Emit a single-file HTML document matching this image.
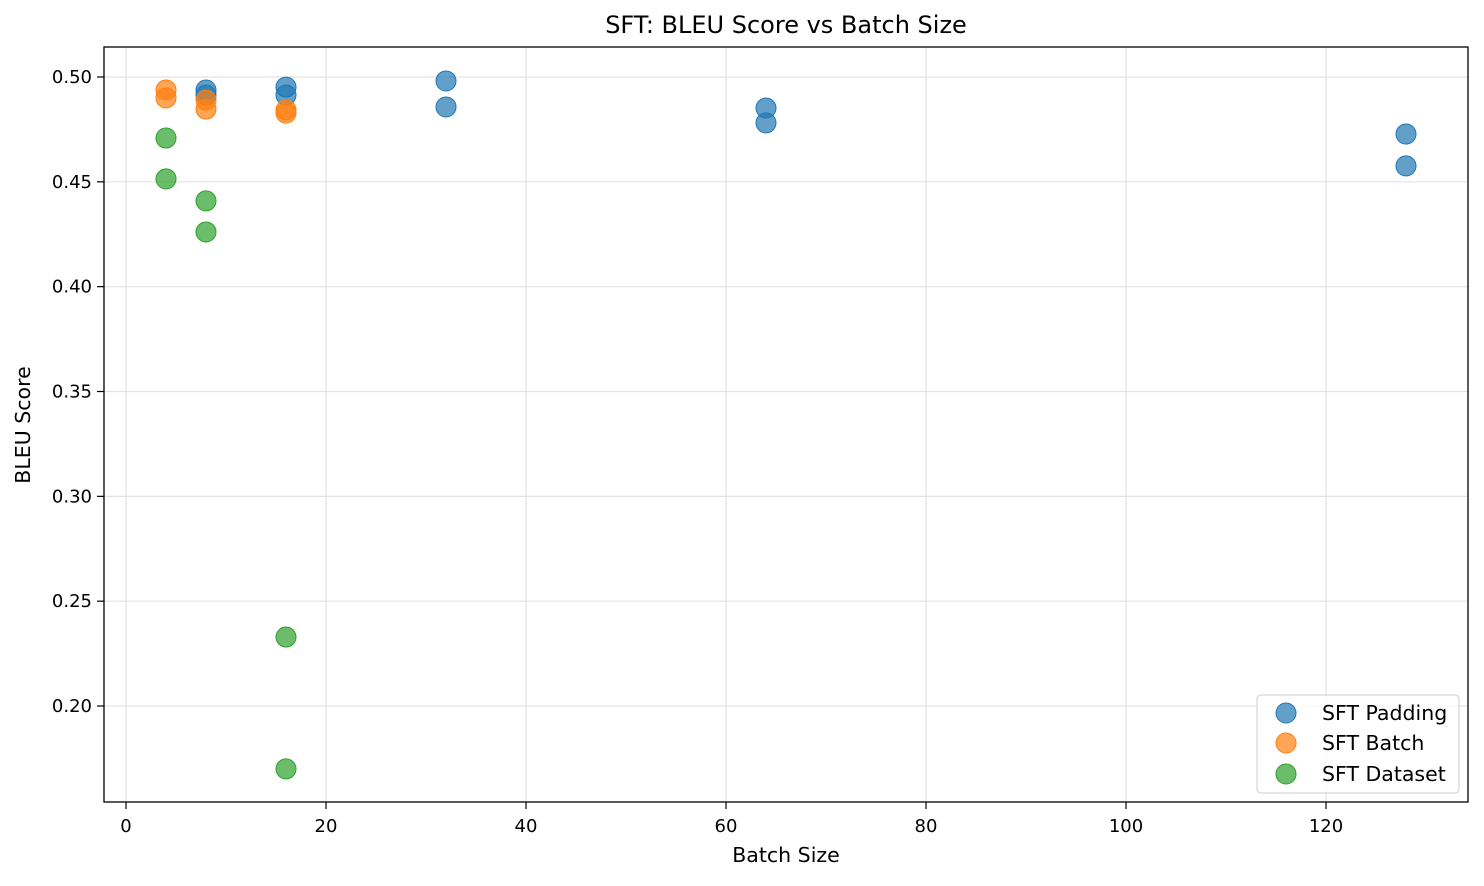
<!DOCTYPE html>
<html><head><meta charset="utf-8">
<style>body{margin:0;background:#fff;font-family:"Liberation Sans","DejaVu Sans",sans-serif;}</style>
</head><body>
<svg id="chart" width="1484" height="881" xmlns="http://www.w3.org/2000/svg" font-family="DejaVu Sans, Liberation Sans, sans-serif">
<rect width="1484" height="881" fill="#fff"/>
<g id="grid"></g>
<g id="ticks"></g>
<g id="marks"></g>
<rect x="104" y="47" width="1364" height="755" fill="none" stroke="#000" stroke-width="1.3"/>
<text x="786" y="33" font-size="24" text-anchor="middle">SFT: BLEU Score vs Batch Size</text>
<text x="786" y="862" font-size="20.5" text-anchor="middle">Batch Size</text>
<text x="30" y="425" font-size="20.5" text-anchor="middle" transform="rotate(-90 30 425)">BLEU Score</text>
<g>
<rect x="1257" y="695" width="202" height="98" rx="4" fill="#fff" fill-opacity="0.8" stroke="#ccc"/>
<circle cx="1286" cy="713" r="10" fill="#1f77b4" fill-opacity="0.7" stroke="#1f77b4"/>
<text x="1322" y="720" font-size="20.5">SFT Padding</text>
<circle cx="1286" cy="743" r="10" fill="#ff7f0e" fill-opacity="0.7" stroke="#ff7f0e"/>
<text x="1322" y="750" font-size="20.5">SFT Batch</text>
<circle cx="1286" cy="774" r="10" fill="#2ca02c" fill-opacity="0.7" stroke="#2ca02c"/>
<text x="1322" y="781" font-size="20.5">SFT Dataset</text>
</g>
</svg>
<script>
const xTicks=[0,20,40,60,80,100,120];
const yTicks=[0.20,0.25,0.30,0.35,0.40,0.45,0.50];
const paddingX=[8,8,16,16,32,32,64,64,128,128];
const paddingY=[0.4938,0.4914,0.4952,0.4914,0.4981,0.4857,0.4852,0.4781,0.4728,0.4576];
const batchX=[4,4,8,8,16,16];
const batchY=[0.4938,0.4900,0.4890,0.4847,0.4843,0.4828];
const datasetX=[4,4,8,8,16,16];
const datasetY=[0.4709,0.4514,0.4409,0.4261,0.2329,0.1700];
const NS="http://www.w3.org/2000/svg";
function sx(v){return 126+v*10.0;}
function sy(v){return 77+(0.5-v)*2096.7;}
const grid=document.getElementById('grid'),ticks=document.getElementById('ticks'),marks=document.getElementById('marks');
function mk(t,a,p){const e=document.createElementNS(NS,t);for(const k in a)e.setAttribute(k,a[k]);p.appendChild(e);return e;}
xTicks.forEach(v=>{const x=sx(v);
 const g=mk('line',{x1:x,x2:x,y1:47,y2:802,stroke:'#e3e3e3','stroke-width':1.2},grid);
 
 
 mk('line',{x1:x,x2:x,y1:802,y2:809,stroke:'#000','stroke-width':1.2},ticks);
 const t=mk('text',{x:x,y:832,'font-size':18,'text-anchor':'middle'},ticks);t.textContent=v;
 
 });
yTicks.forEach(v=>{const y=sy(v);
 const g=mk('line',{x1:104,x2:1468,y1:y,y2:y,stroke:'#e3e3e3','stroke-width':1.2},grid);
 
 
 mk('line',{x1:97,x2:104,y1:y,y2:y,stroke:'#000','stroke-width':1.2},ticks);
 const t=mk('text',{x:92,y:y+6,'font-size':18,'text-anchor':'end'},ticks);t.textContent=v.toFixed(2);
 
 });
function series(xs,ys,c,name){xs.forEach((x,i)=>{
 const e=mk('circle',{cx:sx(x),cy:sy(ys[i]),r:10,fill:c,'fill-opacity':0.7,stroke:c,'stroke-width':1},marks);
 
 });}
series(paddingX,paddingY,'#1f77b4','padding-point');
series(batchX,batchY,'#ff7f0e','batch-point');
series(datasetX,datasetY,'#2ca02c','dataset-point');
</script>
</body></html>
